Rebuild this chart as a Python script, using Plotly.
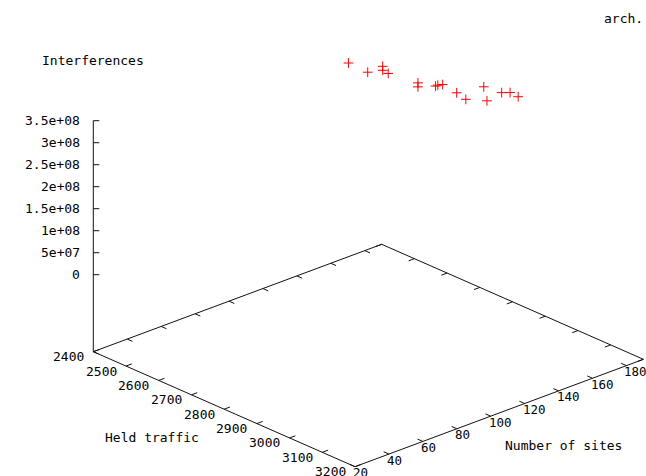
import plotly.graph_objects as go

# ---------------- data ----------------
held_traffic = [3180, 3187, 3181, 3181, 3146, 3185, 3185, 3187, 3142,
                3105, 3096, 3072, 3075, 3033, 3026, 2948, 2869]
number_of_sites = [20, 30, 40, 40, 50, 60, 60, 70, 80,
                   90, 100, 110, 120, 130, 140, 160, 180]
interferences = [7.36e8, 7.03e8, 7.00e8, 6.91e8, 6.58e8, 6.35e8, 6.26e8, 6.14e8, 5.87e8,
                 5.62e8, 5.26e8, 4.89e8, 5.04e8, 4.44e8, 4.46e8, 3.92e8, 3.28e8]

x_tick_values = [2400, 2500, 2600, 2700, 2800, 2900, 3000, 3100, 3200]
y_tick_values = [20, 40, 60, 80, 100, 120, 140, 160, 180]
z_tick_values = [0, 5e7, 1e8, 1.5e8, 2e8, 2.5e8, 3e8, 3.5e8]
z_tick_labels = ["0", "5e+07", "1e+08", "1.5e+08", "2e+08", "2.5e+08", "3e+08", "3.5e+08"]

x_title = "Held traffic"
y_title = "Number of sites"
z_title = "Interferences"
key_text = "arch."

# ---------------- view (gnuplot-like 3D projection) ----------------
X_RANGE = (2400, 3200)
Y_RANGE = (20, 190)
Z_RANGE = (0, 3.5e8)
TICSLEVEL = 0.5
ORIGIN = (93.3, 351.7)      # screen position of (xmin, ymin, base)
EX = (261.7, 115.0)         # screen vector of the full x range
EY = (288.4, -107.4)        # screen vector of the full y range
EZ = 154.0                  # screen pixels for the full z range
W, H = 646, 476
FAMILY = "DejaVu Sans Mono, Liberation Mono, monospace"
FONT = dict(family=FAMILY, size=13, color="black")
FONT_Y = dict(family=FAMILY, size=12.5, color="black")


def proj(x, y, z):
    fx = (x - X_RANGE[0]) / (X_RANGE[1] - X_RANGE[0])
    fy = (y - Y_RANGE[0]) / (Y_RANGE[1] - Y_RANGE[0])
    fz = (z - Z_RANGE[0]) / (Z_RANGE[1] - Z_RANGE[0]) + TICSLEVEL
    return (ORIGIN[0] + fx * EX[0] + fy * EY[0],
            ORIGIN[1] + fx * EX[1] + fy * EY[1] - fz * EZ)


z_base = Z_RANGE[0] - TICSLEVEL * (Z_RANGE[1] - Z_RANGE[0])
x0, x1 = X_RANGE
y0, y1 = Y_RANGE

lx, ly = [], []


def seg(p, q):
    lx.extend([p[0], q[0], None])
    ly.extend([p[1], q[1], None])


# base rectangle
corners = [(x0, y0), (x1, y0), (x1, y1), (x0, y1), (x0, y0)]
for a, b in zip(corners[:-1], corners[1:]):
    seg(proj(a[0], a[1], z_base), proj(b[0], b[1], z_base))
# z axis
seg(proj(x0, y0, z_base), proj(x0, y0, Z_RANGE[1]))

# ticks
tl_y = 0.02 * (y1 - y0)
tl_x = 0.02 * (x1 - x0)
for xt in x_tick_values:
    seg(proj(xt, y0, z_base), proj(xt, y0 + tl_y, z_base))
    seg(proj(xt, y1, z_base), proj(xt, y1 - tl_y, z_base))
for yt in y_tick_values:
    seg(proj(x1, yt, z_base), proj(x1 - tl_x, yt, z_base))
    seg(proj(x0, yt, z_base), proj(x0 + tl_x, yt, z_base))
for zt in z_tick_values:
    p = proj(x0, y0, zt)
    seg(p, (p[0] + 6, p[1]))

fig = go.Figure()
fig.add_trace(go.Scatter(x=lx, y=ly, mode="lines",
                         line=dict(color="#111111", width=1),
                         hoverinfo="skip", showlegend=False))

pts = [proj(a, b, c) for a, b, c in zip(held_traffic, number_of_sites, interferences)]
fig.add_trace(go.Scatter(x=[p[0] for p in pts], y=[p[1] for p in pts], mode="markers",
                         marker=dict(symbol="cross-thin", size=7, color="red",
                                     line=dict(color="red", width=1)),
                         cliponaxis=False, showlegend=False))

ann = []
for xt in x_tick_values:
    p = proj(xt, y0, z_base)
    ann.append(dict(x=p[0] - 25, y=p[1] + 5, text=str(xt), xanchor="center",
                    yanchor="middle", font=FONT))
for yt in y_tick_values:
    p = proj(x1, yt, z_base)
    ann.append(dict(x=p[0] - 4, y=p[1] + 6, text=str(yt), xanchor="left",
                    yanchor="middle", font=FONT_Y))
for zt, lab in zip(z_tick_values, z_tick_labels):
    p = proj(x0, y0, zt)
    ann.append(dict(x=p[0] - 11, y=p[1], text=lab, xanchor="right",
                    yanchor="middle", font=FONT))

ann.append(dict(x=40, y=60, text=z_title, xanchor="left", yanchor="middle", font=FONT))
ann.append(dict(x=103, y=437, text=x_title, xanchor="left", yanchor="middle", font=FONT))
ann.append(dict(x=503, y=445, text=y_title, xanchor="left", yanchor="middle", font=FONT))
ann.append(dict(x=645, y=18, text=key_text, xanchor="right", yanchor="middle", font=FONT))

for a in ann:
    a.update(xref="x", yref="y", showarrow=False)

fig.update_layout(
    width=W, height=H,
    margin=dict(l=0, r=0, t=0, b=0, pad=0),
    paper_bgcolor="white", plot_bgcolor="white",
    xaxis=dict(range=[0, W], visible=False, fixedrange=True),
    yaxis=dict(range=[H, 0], visible=False, fixedrange=True),
    annotations=ann,
    showlegend=False,
    hovermode=False,
)

# remove the default page margin so the figure fills the window exactly
fig.write_html("out.html",
               config={"displayModeBar": False, "staticPlot": True},
               post_script="document.body.style.margin='0';document.body.style.overflow='hidden';")
